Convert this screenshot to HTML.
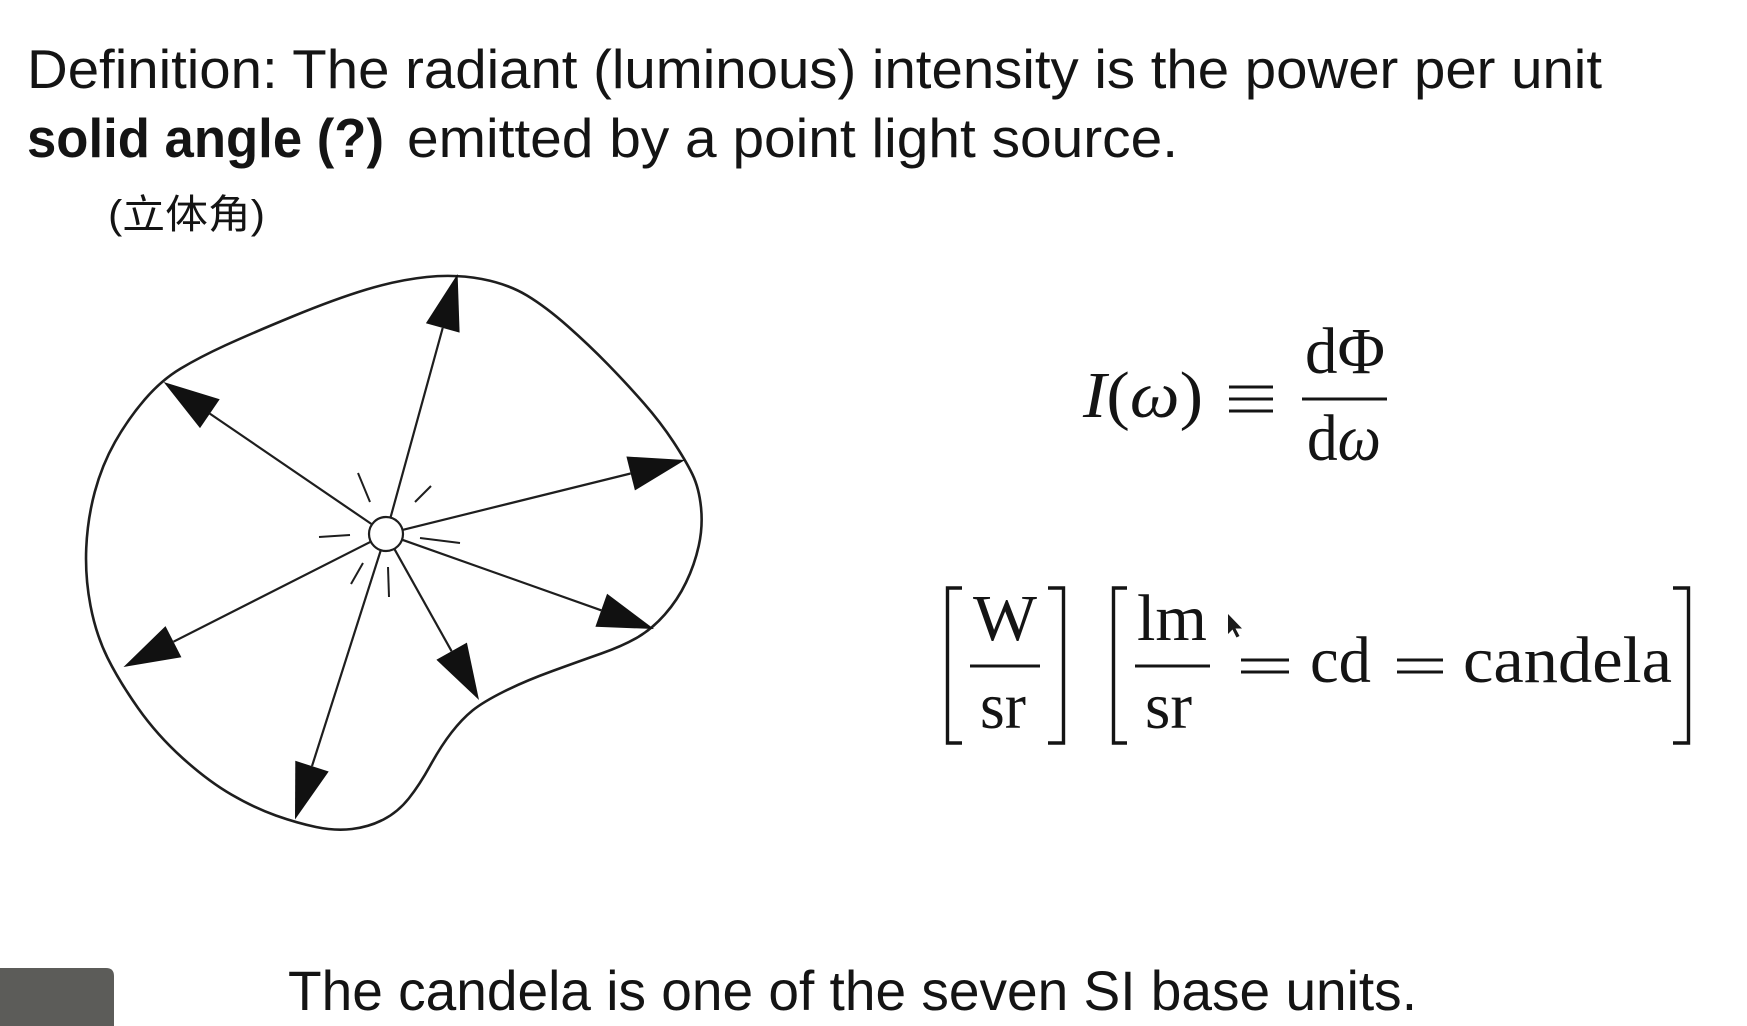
<!DOCTYPE html>
<html>
<head>
<meta charset="utf-8">
<style>
  html,body{margin:0;padding:0;background:#fff;}
  body{width:1747px;height:1026px;overflow:hidden;position:relative;}
  svg{position:absolute;left:0;top:0;}
  .sans{font-family:"Liberation Sans","Noto Sans CJK SC",sans-serif;fill:#141414;}
  .serif{font-family:"Liberation Serif","DejaVu Serif",serif;fill:#141414;}
</style>
</head>
<body>
<svg width="1747" height="1026" viewBox="0 0 1747 1026" xmlns="http://www.w3.org/2000/svg">
  <rect x="0" y="0" width="1747" height="1026" fill="#ffffff"/>

  <!-- Title text -->
  <text class="sans" x="27" y="88" font-size="55" textLength="1575" lengthAdjust="spacingAndGlyphs">Definition: The radiant (luminous) intensity is the power per unit</text>
  <text class="sans" x="27" y="157" font-size="55" font-weight="bold" textLength="357" lengthAdjust="spacingAndGlyphs">solid angle (?)</text>
  <text class="sans" x="407" y="157" font-size="55" textLength="771" lengthAdjust="spacingAndGlyphs">emitted by a point light source.</text>
  <text class="sans" x="108" y="228" font-size="40" textLength="157" lengthAdjust="spacingAndGlyphs">(立体角)</text>

  <!-- Blob outline -->
  <path d="M481.75,279 Q455.5,274 426.75,277 Q398,280 366.5,289.5 Q335,299 292.5,316.5 Q250,334 225,345.5 Q200,357 180.75,368.5 Q161.5,380 144.75,399.5 Q128,419 115,442 Q102,465 94.75,492 Q87.5,519 86.25,548 Q85,577 90.5,605.75 Q96,634.5 107.5,657.75 Q119,681 138,708 Q157,735 182.5,758 Q208,781 231.3,794.5 Q254.6,808 275.8,815.5 Q297,823 316,827 Q335,831 352,829 Q369,827 383.5,819.5 Q398,812 408.75,798.5 Q419.5,785 430.25,765.5 Q441,746 451.5,732.5 Q462,719 472.5,710.5 Q483,702 504,691.5 Q525,681 552.5,671 Q580,661 601.3,653.5 Q622.6,646 637.3,637.5 Q652,629 664.8,614.5 Q677.6,600 686,582.5 Q694.5,565 698.75,545.8 Q703,526.6 701,507.3 Q699,488 692.5,474.5 Q686,461 673.35,441.75 Q660.7,422.5 643.85,403.25 Q627,384 608,364.5 Q589,345 567.5,326 Q546,307 527,295.5 Q508,284 481.75,279 Z" fill="none" stroke="#1e1e1e" stroke-width="2.6"/>

  <!-- Arrow shafts -->
  <g stroke="#1e1e1e" stroke-width="2.2" fill="none">
    <line x1="390.5" y1="517.6" x2="442.7" y2="328"/>
    <line x1="372" y1="524.4" x2="209.8" y2="413.6"/>
    <line x1="402.5" y1="529.9" x2="630.6" y2="473.5"/>
    <line x1="402" y1="539.7" x2="601.2" y2="610.3"/>
    <line x1="394.3" y1="548.8" x2="451.6" y2="651.2"/>
    <line x1="380.8" y1="550.2" x2="312" y2="766.1"/>
    <line x1="370.8" y1="541.7" x2="173.5" y2="641.7"/>
  </g>

  <!-- Arrowheads -->
  <g fill="#111">
    <polygon points="457.6,274 459.6,332.6 425.9,323.3"/>
    <polygon points="163.6,382 219.7,399.2 200,428.1"/>
    <polygon points="685,460 634.9,490.4 626.4,456.5"/>
    <polygon points="654,629 595.4,626.8 607.1,593.8"/>
    <polygon points="479,700 436.4,659.7 466.9,642.6"/>
    <polygon points="295,819.5 295.3,760.8 328.7,771.5"/>
    <polygon points="123.5,667 165.5,626.1 181.4,657.3"/>
  </g>

  <!-- Light source -->
  <circle cx="386" cy="534" r="17" fill="#fff" stroke="#1e1e1e" stroke-width="2.2"/>
  <g stroke="#1e1e1e" stroke-width="2" stroke-linecap="butt">
    <line x1="358" y1="473" x2="370" y2="502"/>
    <line x1="415" y1="502" x2="431" y2="486"/>
    <line x1="319" y1="537" x2="350" y2="535"/>
    <line x1="420" y1="538" x2="460" y2="543"/>
    <line x1="351" y1="584" x2="363" y2="563"/>
    <line x1="388" y1="567" x2="389" y2="597"/>
  </g>

  <!-- Formula 1 -->
  <text class="serif" x="1083" y="417" font-size="66" textLength="120" lengthAdjust="spacingAndGlyphs"><tspan font-style="italic">I</tspan>(<tspan font-style="italic">ω</tspan>)</text>
  <g stroke="#141414" stroke-width="3">
    <line x1="1229" y1="387" x2="1273" y2="387"/>
    <line x1="1229" y1="399" x2="1273" y2="399"/>
    <line x1="1229" y1="411" x2="1273" y2="411"/>
    <line x1="1302" y1="399" x2="1387" y2="399"/>
  </g>
  <text class="serif" x="1305" y="373" font-size="66" textLength="80" lengthAdjust="spacingAndGlyphs">dΦ</text>
  <text class="serif" x="1307" y="460" font-size="66" textLength="74" lengthAdjust="spacingAndGlyphs">d<tspan font-style="italic">ω</tspan></text>

  <!-- Formula 2 -->
  <g stroke="#141414" stroke-width="3.4" fill="none">
    <path d="M962,588 H947.5 V743 H962"/>
    <path d="M1048,588 H1063.5 V743 H1048"/>
    <path d="M1127,588 H1113.5 V743 H1127"/>
    <path d="M1673,588 H1688.5 V743 H1673"/>
  </g>
  <g stroke="#141414" stroke-width="3">
    <line x1="970" y1="666" x2="1040" y2="666"/>
    <line x1="1135" y1="666" x2="1210" y2="666"/>
    <line x1="1241" y1="660" x2="1289" y2="660"/>
    <line x1="1241" y1="672" x2="1289" y2="672"/>
    <line x1="1397" y1="660" x2="1443" y2="660"/>
    <line x1="1397" y1="672" x2="1443" y2="672"/>
  </g>
  <text class="serif" x="973" y="640" font-size="66" textLength="64" lengthAdjust="spacingAndGlyphs">W</text>
  <text class="serif" x="980" y="728" font-size="66" textLength="46" lengthAdjust="spacingAndGlyphs">sr</text>
  <text class="serif" x="1137" y="640" font-size="66" textLength="70" lengthAdjust="spacingAndGlyphs">lm</text>
  <text class="serif" x="1145" y="728" font-size="66" textLength="47" lengthAdjust="spacingAndGlyphs">sr</text>
  <text class="serif" x="1310" y="682" font-size="66" textLength="61" lengthAdjust="spacingAndGlyphs">cd</text>
  <text class="serif" x="1463" y="682" font-size="66" textLength="209" lengthAdjust="spacingAndGlyphs">candela</text>

  <!-- Mouse cursor -->
  <polygon points="1228,614 1228,634 1232.5,629.5 1236.5,637.5 1239.5,636 1235.5,628.5 1242,628.5" fill="#1a1a1a"/>

  <!-- Bottom text -->
  <text class="sans" x="288" y="1010" font-size="56" textLength="1129" lengthAdjust="spacingAndGlyphs">The candela is one of the seven SI base units.</text>

  <!-- Bottom-left gray block -->
  <path d="M0,968 H106 Q114,968 114,976 V1026 H0 Z" fill="#5c5c59"/>
</svg>
</body>
</html>
